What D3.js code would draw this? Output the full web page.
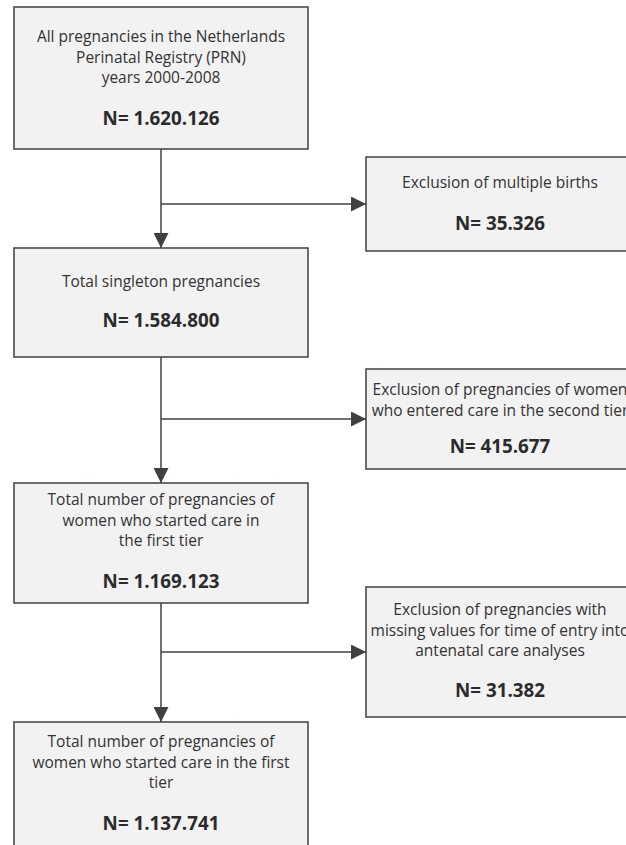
<!DOCTYPE html>
<html>
<head>
<meta charset="utf-8">
<script src="https://cdn.jsdelivr.net/npm/d3@7"></script>
<style>
  body { margin: 0; background: #fff; overflow: hidden; }
  svg { display: block; }
</style>
</head>
<body>
<svg id="chart"></svg>
<script>
// flow steps (left column) and exclusions (right column)
var stepLabels = [
    ['All pregnancies in the Netherlands', 'Perinatal Registry (PRN)', 'years 2000-2008'],
    ['Total singleton pregnancies'],
    ['Total number of pregnancies of', 'women who started care in', 'the first tier'],
    ['Total number of pregnancies of', 'women who started care in the first', 'tier']
];
var stepCounts = ['1.620.126', '1.584.800', '1.169.123', '1.137.741'];

var exclLabels = [
    ['Exclusion of multiple births'],
    ['Exclusion of pregnancies of women', 'who entered care in the second tier'],
    ['Exclusion of pregnancies with', 'missing values for time of entry into', 'antenatal care analyses']
];
var exclCounts = ['35.326', '415.677', '31.382'];

// layout
var W = 626, H = 845;
var mainX = 14, mainW = 294;
var sideX = 366, sideW = 268;
var stepBoxes = [
    {top: 7, h: 142, first: 42, n: 125},
    {top: 248, h: 109, first: 287, n: 327},
    {top: 483, h: 120, first: 505, n: 588},
    {top: 722, h: 140, first: 747, n: 830}
];
var exclBoxes = [
    {top: 157, h: 94, first: 188, n: 230},
    {top: 369, h: 100, first: 395, n: 453},
    {top: 587, h: 130, first: 615, n: 697}
];
var lineH = 20.5;

var svg = d3.select('#chart')
    .attr('width', W)
    .attr('height', H);

var defs = svg.append('defs');
defs.append('marker')
    .attr('id', 'arrow')
    .attr('viewBox', '0 0 10 10')
    .attr('refX', 10)
    .attr('refY', 5)
    .attr('markerUnits', 'userSpaceOnUse')
    .attr('markerWidth', 15)
    .attr('markerHeight', 15)
    .attr('orient', 'auto')
    .append('path')
    .attr('d', 'M0,0 L10,5 L0,10 Z')
    .attr('fill', '#404040');

var cx = mainX + mainW / 2;

var steps = stepLabels.map(function(l, i) {
    return Object.assign({lines: l, count: stepCounts[i]}, stepBoxes[i]);
});
var excls = exclLabels.map(function(l, i) {
    return Object.assign({lines: l, count: exclCounts[i]}, exclBoxes[i]);
});

// connectors
var links = svg.append('g')
    .attr('stroke', '#404040')
    .attr('stroke-width', 1.5)
    .attr('fill', 'none');

links.selectAll('line.down')
    .data(d3.pairs(steps))
    .enter().append('line')
    .attr('class', 'down')
    .attr('x1', cx).attr('x2', cx)
    .attr('y1', function(d) { return d[0].top + d[0].h; })
    .attr('y2', function(d) { return d[1].top; })
    .attr('marker-end', 'url(#arrow)');

links.selectAll('line.side')
    .data(excls)
    .enter().append('line')
    .attr('class', 'side')
    .attr('x1', cx).attr('x2', sideX)
    .attr('y1', function(d) { return d.top + d.h / 2; })
    .attr('y2', function(d) { return d.top + d.h / 2; })
    .attr('marker-end', 'url(#arrow)');

function drawBoxes(data, x, w, cls) {
    var g = svg.selectAll('g.' + cls)
        .data(data)
        .enter().append('g')
        .attr('class', cls);

    g.append('rect')
        .attr('x', x)
        .attr('y', function(d) { return d.top; })
        .attr('width', w)
        .attr('height', function(d) { return d.h; })
        .attr('fill', '#f1f2f1')
        .attr('stroke', '#404040')
        .attr('stroke-width', 1.5);

    g.each(function(d) {
        var sel = d3.select(this);
        sel.selectAll('text.lbl')
            .data(d.lines)
            .enter().append('text')
            .attr('class', 'lbl')
            .attr('x', x + w / 2)
            .attr('y', function(t, i) { return d.first + i * lineH; })
            .attr('text-anchor', 'middle')
            .attr('font-family', 'Open Sans, sans-serif')
            .attr('font-size', 15.5)
            .attr('fill', '#333')
            .text(function(t) { return t; });

        sel.append('text')
            .attr('x', x + w / 2)
            .attr('y', d.n)
            .attr('text-anchor', 'middle')
            .attr('font-family', 'Open Sans, sans-serif')
            .attr('font-weight', 'bold')
            .attr('font-size', 18.8)
            .attr('fill', '#2b2b2b')
            .text('N= ' + d.count);
    });
}

drawBoxes(steps, mainX, mainW, 'step');
drawBoxes(excls, sideX, sideW, 'excl');
</script>
</body>
</html>
